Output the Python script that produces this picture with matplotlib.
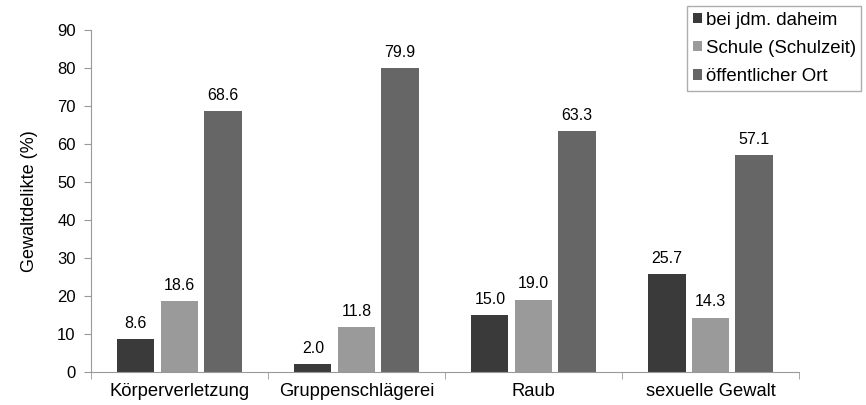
import numpy as np
import matplotlib.pyplot as plt

plt.rcParams['font.family'] = ['Liberation Sans', 'DejaVu Sans']

categories = ['Körperverletzung', 'Gruppenschlägerei', 'Raub', 'sexuelle Gewalt']
series_names = ['bei jdm. daheim', 'Schule (Schulzeit)', 'öffentlicher Ort']
daheim = [8.6, 2.0, 15.0, 25.7]
schule = [18.6, 11.8, 19.0, 14.3]
oeffentlich = [68.6, 79.9, 63.3, 57.1]
colors = ['#3a3a3a', '#9a9a9a', '#666666']

fig = plt.figure(figsize=(8.66, 4.05), dpi=100)
ax = fig.add_axes([0.105, 0.0815, 0.8176, 0.8445])

x = np.arange(len(categories))
width = 0.21
offsets = [-0.246, 0.0, 0.246]
handles = []
for vals, name, col, off in zip([daheim, schule, oeffentlich], series_names, colors, offsets):
    bars = ax.bar(x + off, vals, width, color=col, label=name)
    handles.append(bars)
    for b, v in zip(bars, vals):
        ax.text(b.get_x() + b.get_width() / 2, v + 2.2, f'{v:.1f}',
                ha='center', va='bottom', fontsize=11.5)

ax.set_xlim(-0.5, len(categories) - 0.5)
ax.set_ylim(0, 90)
ax.set_yticks(range(0, 91, 10))
ax.tick_params(axis='y', labelsize=12, length=5, color='#999999', pad=6)
ax.set_xticks(x)
ax.set_xticklabels(categories, fontsize=13.2)
ax.tick_params(axis='x', length=0, pad=8)
ax.set_xticks(np.arange(-0.5, len(categories), 1.0), minor=True)
ax.tick_params(axis='x', which='minor', length=5, color='#999999')
ax.set_ylabel('Gewaltdelikte (%)', fontsize=13, labelpad=14)

for side in ['top', 'right']:
    ax.spines[side].set_visible(False)
for side in ['left', 'bottom']:
    ax.spines[side].set_color('#999999')

# legend box starts near the top right and runs off the right edge
leg = fig.legend(handles=handles, loc='upper left', bbox_to_anchor=(687 / 866, 1 - 6 / 405),
                 fontsize=13.4, frameon=True, fancybox=False, handlelength=0.5,
                 handleheight=0.5, handletextpad=0.2, borderpad=0.3, labelspacing=0.6,
                 borderaxespad=0.0)
leg.get_frame().set_edgecolor('#999999')
leg.get_frame().set_linewidth(1.0)

fig.savefig('out.png', dpi=100)
